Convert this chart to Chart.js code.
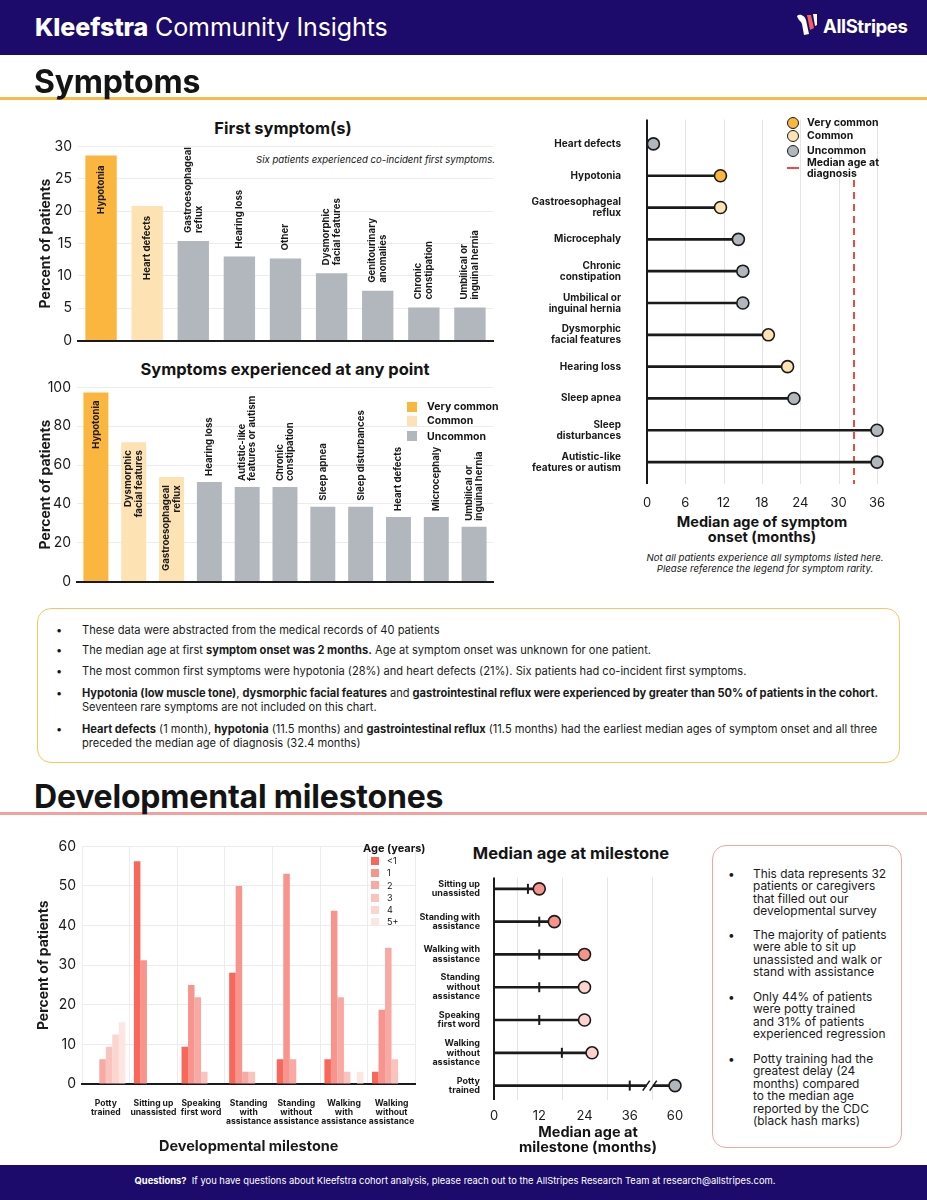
<!DOCTYPE html>
<html><head><meta charset="utf-8">
<title>Kleefstra Community Insights</title>
<script src="https://cdn.jsdelivr.net/npm/chart.js@4.4.1/dist/chart.umd.min.js"></script>
<style>
html,body{margin:0;padding:0}
body{width:927px;height:1200px;position:relative;overflow:hidden;background:#fff;font-family:Inter,'Noto Sans',sans-serif;color:#141414}
.a{position:absolute;white-space:nowrap}
canvas{position:absolute}
.bar{left:0;width:927px;background:#1d0b6b}
.h1{font-size:32px;font-weight:700;letter-spacing:-0.2px;line-height:40px;z-index:2}
.rule{left:0;width:927px;height:3px;z-index:1}
.ct{font-weight:700;font-size:16.5px;line-height:20px;transform:translateX(-50%)}
.box{border-radius:14px;box-sizing:border-box}
.t1{font-size:11.1px;line-height:14px;color:#1a1a1a}
.t2{font-size:11.9px;line-height:12.4px;color:#1a1a1a}
.bul{font-size:11px;line-height:14px}
.lg{font-size:10.5px;font-weight:700;line-height:12px}
.sq{width:10px;height:10px}
.dot{width:10px;height:10px;border-radius:50%;border:1.5px solid #1a1a1a}
.axt{font-weight:700;font-size:14.5px;line-height:15px;text-align:center;transform:translateX(-50%)}
</style></head>
<body>
<!-- header -->
<div class="a bar" style="top:0;height:55px"></div>
<div class="a" style="left:35px;top:12px;font-size:25px;line-height:30px;color:#fff;letter-spacing:-0.1px"><span style="font-weight:800">Kleefstra</span> <span style="font-weight:400">Community Insights</span></div>
<svg class="a" style="left:796px;top:13px" width="26" height="23" viewBox="0 0 26 23">
 <path d="M1 3 C4 0 9 3 10 7 L13 21 L8 22 L6 11 C5 8 2 7 1 3 Z" fill="#fff"/>
 <path d="M11 2 L15 2 L18 15 L14 17 Z" fill="#f0605a"/>
 <path d="M17 1 L21 1 L21 12 L19 13 Z" fill="#fff"/>
</svg>
<div class="a" style="left:823px;top:13px;font-size:18.5px;font-weight:700;line-height:26px;color:#fff;letter-spacing:-0.4px">AllStripes</div>

<!-- Symptoms -->
<div class="a h1" style="left:34px;top:62px">Symptoms</div>
<div class="a rule" style="top:97px;background:#f9bb47"></div>

<div class="a ct" style="left:283px;top:118px">First symptom(s)</div>
<div class="a" style="left:256px;top:153px;font-size:9.6px;font-style:italic;line-height:13px">Six patients experienced co-incident first symptoms.</div>
<canvas id="c1" width="470" height="223" style="left:30px;top:132px"></canvas>

<div class="a ct" style="left:285px;top:359px">Symptoms experienced at any point</div>
<canvas id="c2" width="470" height="223" style="left:30px;top:373px"></canvas>
<div class="a sq" style="left:407px;top:402px;background:#fbb63f"></div>
<div class="a sq" style="left:407px;top:416px;background:#fde2b4"></div>
<div class="a sq" style="left:407px;top:431px;background:#b1b7bd"></div>
<div class="a lg" style="left:427px;top:401px">Very common</div>
<div class="a lg" style="left:427px;top:415px">Common</div>
<div class="a lg" style="left:427px;top:431px">Uncommon</div>

<canvas id="c3" width="400" height="409" style="left:520px;top:99px"></canvas>
<div class="a dot" style="left:787px;top:117px;background:#fbb63f"></div>
<div class="a dot" style="left:787px;top:130px;background:#fde2b4"></div>
<div class="a dot" style="left:787px;top:145px;background:#b1b7bd"></div>
<div class="a" style="left:787px;top:167px;width:12px;height:0;border-top:2px dashed #ec4a43"></div>
<div class="a lg" style="left:807px;top:117px">Very common</div>
<div class="a lg" style="left:807px;top:130px">Common</div>
<div class="a lg" style="left:807px;top:145px">Uncommon</div>
<div class="a lg" style="left:807px;top:157px;line-height:11px">Median age at<br>diagnosis</div>
<div class="a axt" style="left:762px;top:514px">Median age of symptom<br>onset (months)</div>
<div class="a" style="left:765px;top:552px;transform:translateX(-50%);font-size:9.6px;font-style:italic;line-height:11px;text-align:center">Not all patients experience all symptoms listed here.<br>Please reference the legend for symptom rarity.</div>

<!-- Symptoms notes -->
<div class="a box" style="left:37px;top:608px;width:863px;height:155px;border:1.5px solid #f8c55e"></div>
<div class="a bul" style="left:56px;top:623px">•</div>
<div class="a t1" style="left:82px;top:623px">These data were abstracted from the medical records of 40 patients</div>
<div class="a bul" style="left:56px;top:643px">•</div>
<div class="a t1" style="left:82px;top:643px">The median age at first <b>symptom onset was 2 months.</b> Age at symptom onset was unknown for one patient.</div>
<div class="a bul" style="left:56px;top:664px">•</div>
<div class="a t1" style="left:82px;top:664px">The most common first symptoms were hypotonia (28%) and heart defects (21%). Six patients had co-incident first symptoms.</div>
<div class="a bul" style="left:56px;top:686px">•</div>
<div class="a t1" style="left:82px;top:686px;letter-spacing:-0.03px"><b>Hypotonia (low muscle tone)</b>, <b>dysmorphic facial features</b> and <b>gastrointestinal reflux were experienced by greater than 50% of patients in the cohort.</b><br>Seventeen rare symptoms are not included on this chart.</div>
<div class="a bul" style="left:56px;top:722px">•</div>
<div class="a t1" style="left:82px;top:722px"><b>Heart defects</b> (1 month), <b>hypotonia</b> (11.5 months) and <b>gastrointestinal reflux</b> (11.5 months) had the earliest median ages of symptom onset and all three<br>preceded the median age of diagnosis (32.4 months)</div>

<!-- Developmental milestones -->
<div class="a h1" style="left:34px;top:777px">Developmental milestones</div>
<div class="a rule" style="top:812px;background:#f2a19c"></div>

<canvas id="c4" width="400" height="328" style="left:30px;top:832px"></canvas>
<div class="a" style="left:363px;top:841px;font-size:11px;font-weight:700;line-height:14px">Age (years)</div>
<div class="a sq" style="left:371px;top:857px;width:8px;height:8px;background:#f9665a"></div>
<div class="a sq" style="left:371px;top:869px;width:8px;height:8px;background:#f7948e"></div>
<div class="a sq" style="left:371px;top:881px;width:8px;height:8px;background:#f8a9a3"></div>
<div class="a sq" style="left:371px;top:894px;width:8px;height:8px;background:#fac3be"></div>
<div class="a sq" style="left:371px;top:906px;width:8px;height:8px;background:#fcd4d0"></div>
<div class="a sq" style="left:371px;top:918px;width:8px;height:8px;background:#fde5e2"></div>
<div class="a" style="left:387px;top:855px;font-size:9px;line-height:12.3px">&lt;1<br>1<br>2<br>3<br>4<br>5+</div>

<div class="a ct" style="left:571px;top:843px">Median age at milestone</div>
<canvas id="c5" width="265" height="265" style="left:420px;top:857px"></canvas>
<div class="a axt" style="left:588px;top:1124px">Median age at<br>milestone (months)</div>

<div class="a box" style="left:712px;top:845px;width:190px;height:303px;border:1.5px solid #eea7a2"></div>
<div class="a t2" style="left:728px;top:868px">•</div>
<div class="a t2" style="left:753px;top:868px">This data represents 32<br>patients or caregivers<br>that filled out our<br>developmental survey</div>
<div class="a t2" style="left:728px;top:929px">•</div>
<div class="a t2" style="left:753px;top:929px">The majority of patients<br>were able to sit up<br>unassisted and walk or<br>stand with assistance</div>
<div class="a t2" style="left:728px;top:991px">•</div>
<div class="a t2" style="left:753px;top:991px">Only 44% of patients<br>were potty trained<br>and 31% of patients<br>experienced regression</div>
<div class="a t2" style="left:728px;top:1053px">•</div>
<div class="a t2" style="left:753px;top:1053px">Potty training had the<br>greatest delay (24<br>months) compared<br>to the median age<br>reported by the CDC<br>(black hash marks)</div>

<!-- footer -->
<div class="a bar" style="top:1165px;height:35px"></div>
<div class="a" style="left:0;width:910px;top:1175px;text-align:center;font-size:9.4px;line-height:12px;color:#fff"><b>Questions?</b>&nbsp; If you have questions about Kleefstra cohort analysis, please reach out to the AllStripes Research Team at research@allstripes.com.</div>

<script>
// ---------- data ----------
const firstCats = [['Hypotonia'],['Heart defects'],['Gastroesophageal','reflux'],['Hearing loss'],['Other'],['Dysmorphic','facial features'],['Genitourinary','anomalies'],['Chronic','constipation'],['Umbilical or','inguinal hernia']];
const firstValues = [28.6, 20.8, 15.4, 13.0, 12.7, 10.4, 7.7, 5.1, 5.1];
const firstRarity = ['Very common','Common','Uncommon','Uncommon','Uncommon','Uncommon','Uncommon','Uncommon','Uncommon'];

const anyCats = [['Hypotonia'],['Dysmorphic','facial features'],['Gastroesophageal','reflux'],['Hearing loss'],['Autistic-like','features or autism'],['Chronic','constipation'],['Sleep apnea'],['Sleep disturbances'],['Heart defects'],['Microcephaly'],['Umbilical or','inguinal hernia']];
const anyValues = [97.4, 71.8, 53.8, 51.3, 48.7, 48.7, 38.5, 38.5, 33.3, 33.3, 28.2];
const anyRarity = ['Very common','Common','Common','Uncommon','Uncommon','Uncommon','Uncommon','Uncommon','Uncommon','Uncommon','Uncommon'];

const onsetCats = [['Heart defects'],['Hypotonia'],['Gastroesophageal','reflux'],['Microcephaly'],['Chronic','constipation'],['Umbilical or','inguinal hernia'],['Dysmorphic','facial features'],['Hearing loss'],['Sleep apnea'],['Sleep','disturbances'],['Autistic-like','features or autism']];
const onsetMonths = [1, 11.5, 11.5, 14.3, 15, 15, 19, 22, 23, 36, 36];
const onsetRarity = ['Uncommon','Very common','Common','Uncommon','Uncommon','Uncommon','Common','Common','Uncommon','Uncommon','Uncommon'];
const medianDiagnosisMonths = 32.4;
const onsetTicks = [0, 6, 12, 18, 24, 30, 36];

const devCats = [['Potty','trained'],['Sitting up','unassisted'],['Speaking','first word'],['Standing','with','assistance'],['Standing','without','assistance'],['Walking','with','assistance'],['Walking','without','assistance']];
const ageGroups = ['<1','1','2','3','4','5+'];
const ageUnder1 = [0, 56.25, 9.4, 28.1, 6.25, 6.25, 3.1];
const age1 = [0, 31.25, 25, 50, 53.1, 43.75, 18.75];
const age2 = [6.25, 0, 21.9, 3.1, 6.25, 21.9, 34.4];
const age3 = [9.4, 0, 3.1, 3.1, 0, 3.1, 6.25];
const age4 = [12.5, 0, 0, 0, 0, 0, 0];
const age5plus = [15.6, 0, 0, 0, 0, 3.1, 0];

const msCats = [['Sitting up','unassisted'],['Standing with','assistance'],['Walking with','assistance'],['Standing','without','assistance'],['Speaking','first word'],['Walking','without','assistance'],['Potty','trained']];
const msMedianMonths = [12, 16, 24, 24, 24, 26, 60];
const msCdcMonths = [9, 12, 12, 12, 12, 18, 36];
const msTone = ['medium','medium','medium','light','light','light','grey'];
const msTickMonths = [0, 12, 24, 36, 60];

// ---------- styles ----------
const rarityColors = {'Very common':'#fbb63f','Common':'#fde2b4','Uncommon':'#b1b7bd'};
const ageColors = ['#f9665a','#f7948e','#f8a9a3','#fac3be','#fcd4d0','#fde5e2'];
const toneColors = {medium:'#f5938c', light:'#fcd3cf', grey:'#b1b7bd'};
const INK = '#1a1a1a';
const FONT = "Inter, 'Noto Sans', sans-serif";
Chart.defaults.font.family = FONT;
Chart.defaults.color = INK;

// broken axis for the milestone chart: months beyond 36 are compressed
const brk = v => v <= 36 ? v : 36 + (v - 36) / 2;
const unbrk = a => a <= 36 ? a : 36 + (a - 36) * 2;

const yTitle = t => ({display:true, text:t, font:{size:14, weight:'bold'}, color:INK, padding:0});

// rotated labels on bars
const rotLabels = {
  id:'rotLabels',
  afterDatasetsDraw(chart, args, o){
    const ctx = chart.ctx, meta = chart.getDatasetMeta(0);
    ctx.save();
    ctx.font = o.font; ctx.fillStyle = INK; ctx.textBaseline = 'middle';
    meta.data.forEach((bar, i) => {
      const lines = [].concat(chart.data.labels[i]);
      const inside = o.inside[i];
      ctx.save();
      ctx.translate(bar.x, inside ? bar.y + o.padIn : bar.y - o.padOut);
      ctx.rotate(-Math.PI/2);
      ctx.textAlign = inside ? 'right' : 'left';
      lines.forEach((ln, j) => ctx.fillText(ln, 0, (j - (lines.length - 1)/2) * o.lineHeight));
      ctx.restore();
    });
    ctx.restore();
  }
};

// lollipop decoration: grid, reference line, axis line
const lolliDeco = {
  id:'lolliDeco',
  beforeDatasetsDraw(chart, args, o){
    const {ctx, chartArea:ca, scales:{x}} = chart;
    ctx.save();
    ctx.lineWidth = 1; ctx.strokeStyle = o.gridColor;
    x.ticks.forEach(t => {
      if (!o.gridFilter(t.value)) return;
      const px = Math.round(x.getPixelForValue(t.value)) + 0.5;
      ctx.beginPath(); ctx.moveTo(px, ca.top - o.extTop); ctx.lineTo(px, ca.bottom + o.extBottom); ctx.stroke();
    });
    if (o.ref){
      ctx.strokeStyle = o.ref.color; ctx.lineWidth = 2; ctx.setLineDash(o.ref.dash);
      const px = x.getPixelForValue(o.ref.value);
      ctx.beginPath(); ctx.moveTo(px, o.ref.top); ctx.lineTo(px, ca.bottom + o.extBottom); ctx.stroke();
      ctx.setLineDash([]);
    }
    ctx.strokeStyle = INK; ctx.lineWidth = 2;
    const ax = x.getPixelForValue(0);
    ctx.beginPath(); ctx.moveTo(ax, ca.top - o.extTop); ctx.lineTo(ax, ca.bottom + o.extBottom); ctx.stroke();
    ctx.restore();
  }
};

// axis-break mark "//"
const breakMark = {
  id:'breakMark',
  afterDatasetsDraw(chart, args, o){
    const {ctx, scales:{x, y}} = chart;
    o.values.forEach((v, i) => {
      if (v <= 36) return;
      const px = x.getPixelForValue(o.at), py = y.getPixelForValue(i);
      ctx.save();
      ctx.fillStyle = '#fff'; ctx.fillRect(px - 3, py - 3, 6, 6);
      ctx.strokeStyle = INK; ctx.lineWidth = 1.6;
      [-3.5, 3.5].forEach(d => { ctx.beginPath(); ctx.moveTo(px + d - 3.5, py + 5); ctx.lineTo(px + d + 3.5, py - 5); ctx.stroke(); });
      ctx.restore();
    });
  }
};

const base = {responsive:false, animation:false, events:[]};

// ---------- chart 1: first symptoms ----------
new Chart(document.getElementById('c1'), {
  type:'bar',
  data:{labels:firstCats, datasets:[{data:firstValues, backgroundColor:firstRarity.map(r => rarityColors[r]), categoryPercentage:1, barPercentage:0.68}]},
  options:{...base,
    layout:{padding:{top:10, right:7, bottom:3, left:7}},
    plugins:{legend:{display:false}, tooltip:{enabled:false},
      rotLabels:{inside:firstRarity.map(r => r !== 'Uncommon'), font:'bold 9.6px ' + FONT, lineHeight:11, padIn:10, padOut:8}},
    scales:{
      x:{ticks:{display:false}, grid:{display:false}, border:{color:INK, width:2}, afterFit(s){ s.height = 2; }},
      y:{min:0, max:30, ticks:{stepSize:5, font:{size:14}, color:INK, padding:6}, grid:{color:'#ececec', drawTicks:false}, border:{display:false}, title:yTitle('Percent of patients'), afterFit(s){ s.width = 41; }}
    }},
  plugins:[rotLabels]
});

// ---------- chart 2: symptoms at any point ----------
new Chart(document.getElementById('c2'), {
  type:'bar',
  data:{labels:anyCats, datasets:[{data:anyValues, backgroundColor:anyRarity.map(r => rarityColors[r]), categoryPercentage:1, barPercentage:0.66}]},
  options:{...base,
    layout:{padding:{top:10, right:7, bottom:3, left:7}},
    plugins:{legend:{display:false}, tooltip:{enabled:false},
      rotLabels:{inside:anyRarity.map(r => r !== 'Uncommon'), font:'bold 9.6px ' + FONT, lineHeight:10.5, padIn:8, padOut:6}},
    scales:{
      x:{ticks:{display:false}, grid:{display:false}, border:{color:INK, width:2}, afterFit(s){ s.height = 2; }},
      y:{min:0, max:100, ticks:{stepSize:20, font:{size:14}, color:INK, padding:6}, grid:{color:'#ececec', drawTicks:false}, border:{display:false}, title:yTitle('Percent of patients'), afterFit(s){ s.width = 40; }}
    }},
  plugins:[rotLabels]
});

// ---------- chart 3: median age of symptom onset ----------
new Chart(document.getElementById('c3'), {
  type:'bar',
  data:{labels:onsetCats, datasets:[
    {type:'line', indexAxis:'y', data:onsetMonths, showLine:false, pointRadius:6, pointHoverRadius:6,
     pointBackgroundColor:onsetRarity.map(r => rarityColors[r]), pointBorderColor:INK, pointBorderWidth:1.6, clip:false, order:0},
    {type:'bar', indexAxis:'y', data:onsetMonths, backgroundColor:INK, barThickness:2, order:1}
  ]},
  options:{...base, indexAxis:'y',
    layout:{padding:{top:16, right:43, bottom:0, left:0}},
    plugins:{legend:{display:false}, tooltip:{enabled:false},
      lolliDeco:{gridColor:'#e4e4e4', gridFilter:v => v > 0, extTop:8.5, extBottom:6,
        ref:{value:medianDiagnosisMonths, top:81, color:'#ec4a43', dash:[7,5]}}},
    scales:{
      x:{type:'linear', min:0, max:36, afterBuildTicks(s){ s.ticks = onsetTicks.map(v => ({value:v})); },
         ticks:{font:{size:13}, color:INK, padding:9}, grid:{display:false}, border:{display:false}, afterFit(s){ s.height = 30; }},
      y:{type:'category', ticks:{font:{size:10, weight:'bold', lineHeight:1.1}, color:INK, padding:18}, grid:{display:false}, border:{display:false}, afterFit(s){ s.width = 127; }}
    }},
  plugins:[lolliDeco]
});

// ---------- chart 4: developmental milestones ----------
const devSeries = [ageUnder1, age1, age2, age3, age4, age5plus];
new Chart(document.getElementById('c4'), {
  type:'bar',
  data:{labels:devCats, datasets:ageGroups.map((g, i) => ({label:g, data:devSeries[i], backgroundColor:ageColors[i], categoryPercentage:0.82, barPercentage:1}))},
  options:{...base,
    layout:{padding:{top:12, right:10, bottom:5, left:5}},
    plugins:{legend:{display:false}, tooltip:{enabled:false}},
    scales:{
      x:{ticks:{font:{size:8.6, weight:'bold', lineHeight:1.05}, color:INK, padding:15, maxRotation:0, autoSkip:false},
         grid:{color:'#ececec', drawTicks:false, offset:true}, border:{color:INK, width:2},
         title:{display:true, text:'Developmental milestone', font:{size:14.5, weight:'bold'}, color:INK, padding:0},
         afterFit(s){ s.height = 71; }},
      y:{min:0, max:60, ticks:{stepSize:10, font:{size:14}, color:INK, padding:6}, grid:{color:'#ececec', drawTicks:false}, border:{display:false}, title:yTitle('Percent of patients'), afterFit(s){ s.width = 47; }}
    }}
});

// ---------- chart 5: median age at milestone ----------
new Chart(document.getElementById('c5'), {
  type:'bar',
  data:{labels:msCats, datasets:[
    {type:'line', indexAxis:'y', data:msMedianMonths.map(brk), showLine:false, pointRadius:6, pointHoverRadius:6,
     pointBackgroundColor:msTone.map(t => toneColors[t]), pointBorderColor:INK, pointBorderWidth:1.6, clip:false, order:0},
    {type:'line', indexAxis:'y', data:msCdcMonths.map(brk), showLine:false, pointStyle:'line', pointRotation:90, pointRadius:5, pointHoverRadius:5,
     borderColor:INK, pointBorderColor:INK, pointBorderWidth:2, clip:false, order:1},
    {type:'bar', indexAxis:'y', data:msMedianMonths.map(brk), backgroundColor:INK, barThickness:2, order:2}
  ]},
  options:{...base, indexAxis:'y',
    layout:{padding:{top:10, right:10, bottom:0, left:0}},
    plugins:{legend:{display:false}, tooltip:{enabled:false},
      lolliDeco:{gridColor:'#e4e4e4', gridFilter:v => v % 12 === 6, extTop:-5, extBottom:-2},
      breakMark:{at:41.3, values:msMedianMonths}},
    scales:{
      x:{type:'linear', min:0, max:48,
         afterBuildTicks(s){ s.ticks = [0,6,12,18,24,30,36,42,48].map(v => ({value:v})); },
         ticks:{callback:v => msTickMonths.includes(unbrk(v)) ? String(unbrk(v)) : '', font:{size:13, lineHeight:1}, color:INK, padding:0},
         grid:{display:false}, border:{display:false}, afterFit(s){ s.height = 20; }},
      y:{type:'category', ticks:{font:{size:9, weight:'bold', lineHeight:1.05}, color:INK, padding:6}, grid:{display:false}, border:{display:false}, afterFit(s){ s.width = 74; }}
    }},
  plugins:[lolliDeco, breakMark]
});
</script>
</body></html>
